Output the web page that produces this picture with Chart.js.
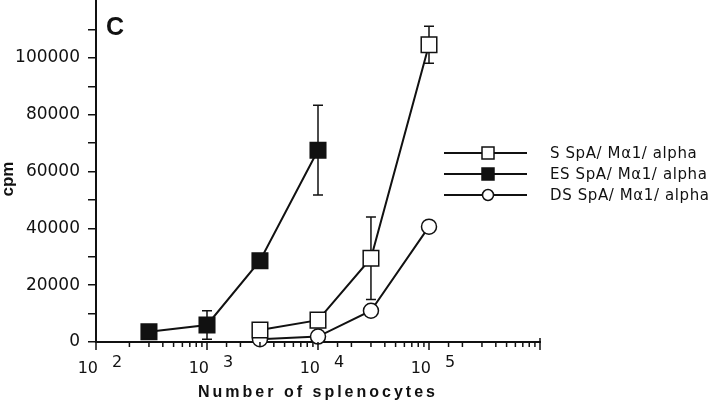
<!DOCTYPE html>
<html>
<head>
<meta charset="utf-8">
<script src="https://cdn.jsdelivr.net/npm/chart.js@4.4.1/dist/chart.umd.min.js"></script>
<style>
  html, body { margin: 0; padding: 0; background: #fff; }
  #wrap { width: 720px; height: 403px; }
</style>
</head>
<body>
<div id="wrap"><canvas id="myChart" width="720" height="403"></canvas></div>
<script>
// values
const sX = [3000, 10000, 30000, 100000];
const sY = [4200, 7700, 29500, 104600];
const sErr = [0, 0, 14500, 6500];

const esX = [300, 1000, 3000, 10000];
const esY = [3600, 6000, 28600, 67500];
const esErr = [0, 5000, 0, 15800];

const dsX = [3000, 10000, 30000, 100000];
const dsY = [1000, 1900, 11000, 40600];
const dsErr = [0, 0, 0, 1500];

const xDecades = [100, 1000, 10000, 100000];
const yLabels = [0, 20000, 40000, 60000, 80000, 100000];
const seriesNames = ['S SpA/ M\u03b11/ alpha', 'ES SpA/ M\u03b11/ alpha', 'DS SpA/ M\u03b11/ alpha'];

const FONT = '"Liberation Sans", Arial, Helvetica, sans-serif';
const WIDE = '"DejaVu Sans", sans-serif';
const INK = '#111';

const pts = (xs, ys) => xs.map((x, i) => ({ x: x, y: ys[i] }));

function mkSet(label, xs, ys, errs, style, fill, radius) {
  return {
    label: label,
    data: pts(xs, ys),
    errs: errs,
    borderColor: INK,
    borderWidth: 2,
    pointStyle: style,
    pointRadius: radius,
    pointHoverRadius: radius,
    pointBackgroundColor: fill,
    pointBorderColor: INK,
    pointBorderWidth: 1.5,
    tension: 0,
    clip: false
  };
}

const extras = {
  id: 'extras',
  beforeDatasetsDraw(chart) {
    const ctx = chart.ctx, xs = chart.scales.x, ys = chart.scales.y;
    ctx.save();
    ctx.strokeStyle = INK;
    ctx.lineWidth = 1.5;
    chart.data.datasets.forEach(ds => {
      ds.data.forEach((p, i) => {
        const e = ds.errs[i];
        if (!e) return;
        const px = xs.getPixelForValue(p.x);
        const top = ys.getPixelForValue(p.y + e);
        const bot = ys.getPixelForValue(p.y - e);
        ctx.beginPath();
        ctx.moveTo(px, top); ctx.lineTo(px, bot);
        ctx.moveTo(px - 5, top); ctx.lineTo(px + 5, top);
        ctx.moveTo(px - 5, bot); ctx.lineTo(px + 5, bot);
        ctx.stroke();
      });
    });
    ctx.restore();
  },
  afterDraw(chart) {
    const ctx = chart.ctx, xs = chart.scales.x, area = chart.chartArea;
    ctx.save();
    ctx.strokeStyle = INK;
    ctx.fillStyle = INK;
    // x ticks, long at decades
    ctx.lineWidth = 1.5;
    xs.ticks.forEach(t => {
      const px = xs.getPixelForValue(t.value);
      const lg = Math.log10(t.value);
      const major = Math.abs(lg - Math.round(lg)) < 1e-9;
      ctx.beginPath();
      ctx.moveTo(px, area.bottom - (t.value === 1e6 ? 4 : 0));
      ctx.lineTo(px, area.bottom + (major ? 8 : 5));
      ctx.stroke();
    });
    // x labels: 10 with exponent
    xDecades.forEach(v => {
      const px = xs.getPixelForValue(v);
      ctx.font = '16px ' + WIDE;
      ctx.textAlign = 'right';
      ctx.textBaseline = 'alphabetic';
      ctx.fillText('10', px + 2, 373);
      ctx.textAlign = 'left';
      ctx.fillText(String(Math.round(Math.log10(v))), px + 16, 367);
    });
    // axis titles
    ctx.font = 'bold 16px ' + FONT;
    ctx.letterSpacing = '3px';
    ctx.textAlign = 'center';
    ctx.fillText('Number of splenocytes', 318, 397);
    ctx.letterSpacing = '0px';
    ctx.save();
    ctx.translate(13, 179);
    ctx.rotate(-Math.PI / 2);
    ctx.font = 'bold 17px ' + FONT;
    ctx.fillText('cpm', 0, 0);
    ctx.restore();
    // panel letter
    ctx.font = 'bold 25px ' + FONT;
    ctx.textAlign = 'left';
    ctx.fillText('C', 106, 35);
    // legend
    const rows = [153, 174, 195];
    chart.data.datasets.forEach((ds, i) => {
      const y = rows[i];
      ctx.lineWidth = 2;
      ctx.beginPath();
      ctx.moveTo(444, y); ctx.lineTo(527, y);
      ctx.stroke();
      ctx.lineWidth = 1.5;
      ctx.fillStyle = ds.pointBackgroundColor;
      ctx.beginPath();
      if (ds.pointStyle === 'circle') {
        ctx.arc(488, y, 5.5, 0, Math.PI * 2);
      } else {
        ctx.rect(482, y - 6, 12, 12);
      }
      ctx.fill();
      ctx.stroke();
      ctx.fillStyle = INK;
      ctx.font = '15px ' + WIDE;
      ctx.letterSpacing = '0.6px';
      ctx.textAlign = 'left';
      ctx.textBaseline = 'middle';
      ctx.fillText(seriesNames[i], 550, y + 1);
      ctx.letterSpacing = '0px';
    });
    ctx.restore();
  }
};

const context = document.getElementById('myChart').getContext('2d');
const myChart = new Chart(context, {
  type: 'line',
  data: {
    datasets: [
      mkSet(seriesNames[0], sX, sY, sErr, 'rect', '#fff', 11),
      mkSet(seriesNames[1], esX, esY, esErr, 'rect', INK, 11),
      mkSet(seriesNames[2], dsX, dsY, dsErr, 'circle', '#fff', 7.5)
    ]
  },
  options: {
    responsive: false,
    animation: false,
    layout: { autoPadding: false, padding: { top: 1, right: 180, left: 0, bottom: 0 } },
    plugins: { legend: { display: false }, tooltip: { enabled: false } },
    scales: {
      x: {
        type: 'logarithmic',
        min: 100,
        max: 1000000,
        grid: { display: false },
        border: { display: true, color: INK, width: 2 },
        ticks: { display: false },
        afterFit: s => { s.height = 61; }
      },
      y: {
        min: 0,
        max: 120000,
        afterBuildTicks: s => { s.ticks = s.ticks.filter(t => t.value <= 110000); },
        grid: { display: true, drawOnChartArea: false, drawTicks: true, tickLength: 8, color: INK, lineWidth: 1.5 },
        border: { display: true, color: INK, width: 2 },
        ticks: {
          stepSize: 10000,
          padding: 8,
          color: INK,
          font: { family: WIDE, size: 17 },
          callback: v => yLabels.includes(v) ? String(v) : ''
        },
        afterFit: s => { s.width = 96; s.paddingTop = 0; s.paddingBottom = 0; }
      }
    }
  },
  plugins: [extras]
});
</script>
</body>
</html>
